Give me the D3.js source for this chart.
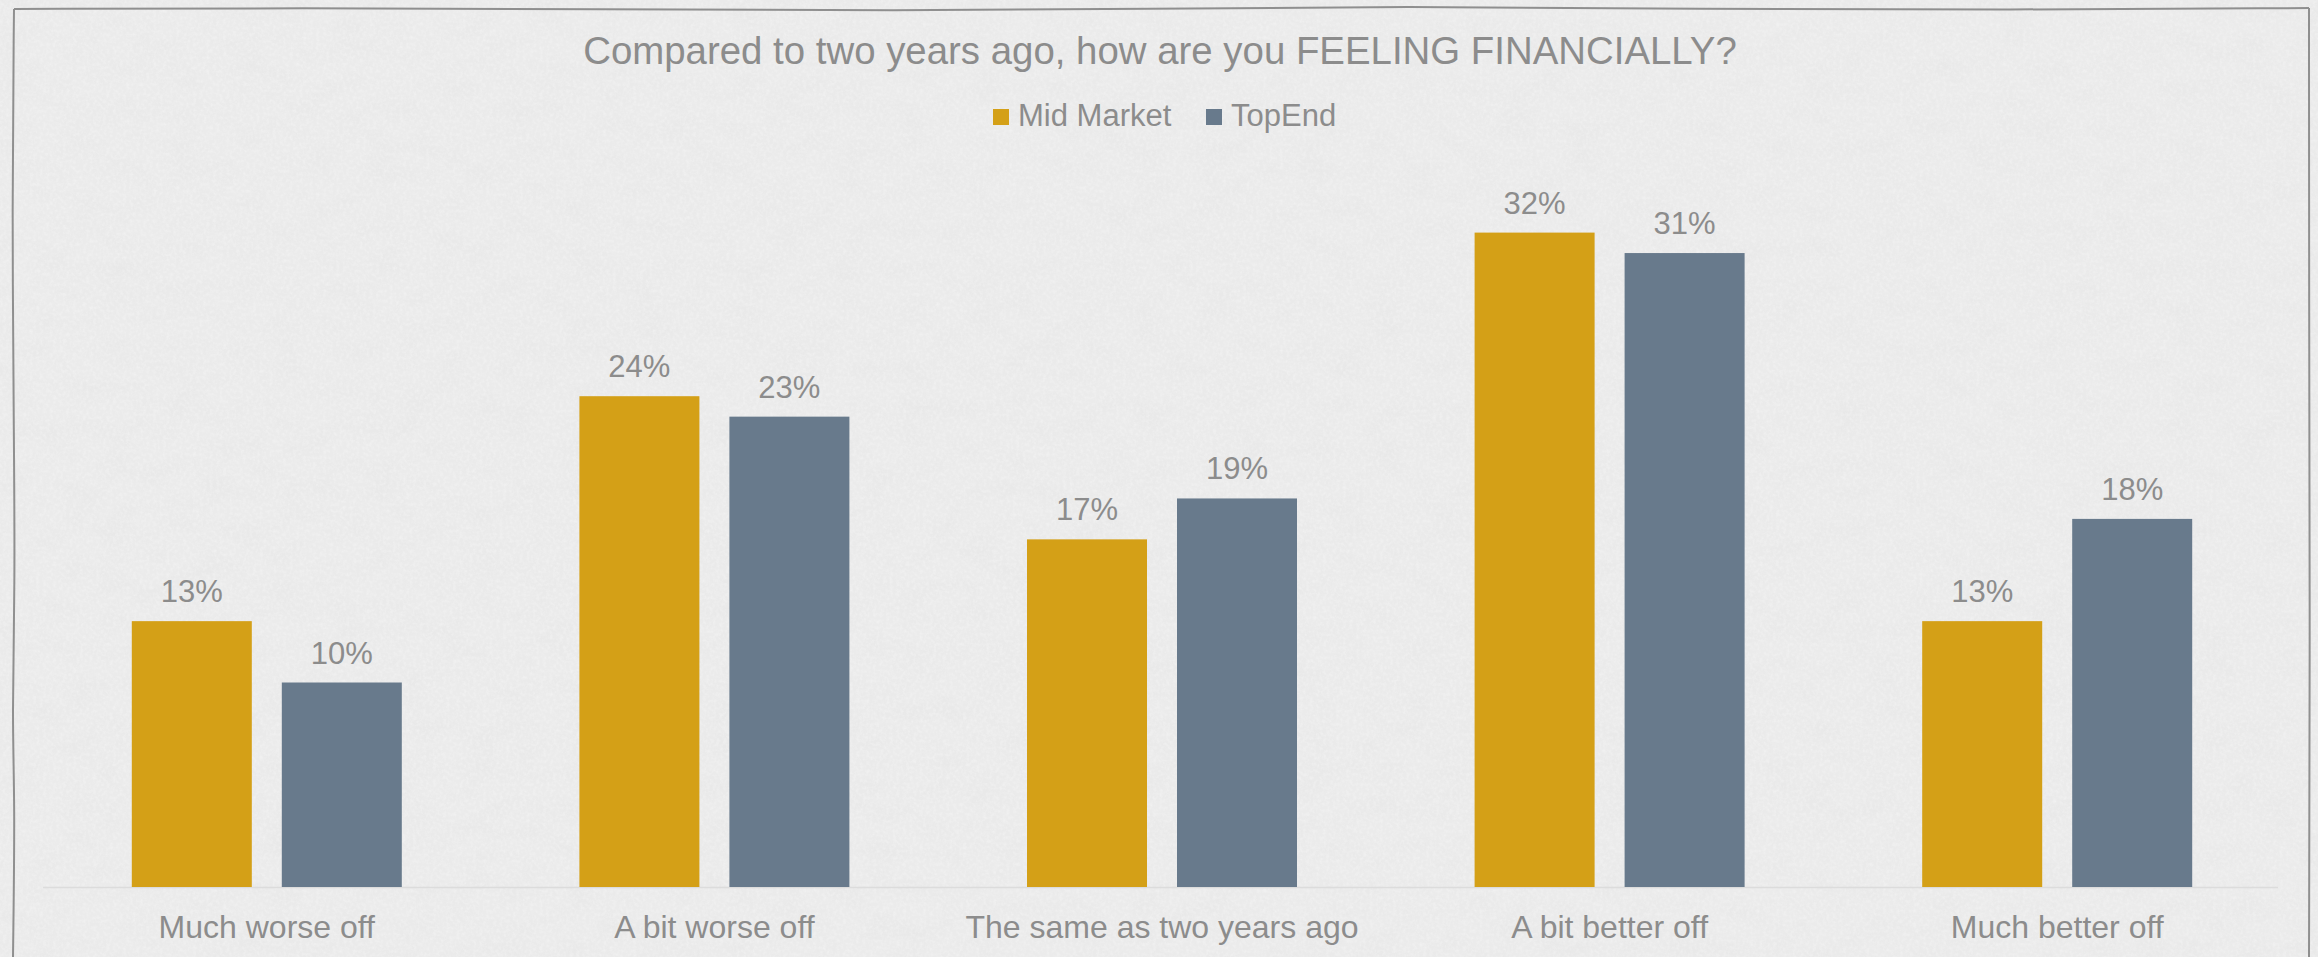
<!DOCTYPE html>
<html>
<head>
<meta charset="utf-8">
<script src="https://cdn.jsdelivr.net/npm/d3@7"></script>
<style>
  html, body { margin: 0; padding: 0; background: #ececec; }
  svg { display: block; }
  text { font-family: "Liberation Sans", Arial, sans-serif; fill: #8c8c8c; }
</style>
</head>
<body>
<script>
// Survey answers: "Compared to two years ago, how are you FEELING FINANCIALLY?"
const categories = ["Much worse off", "A bit worse off", "The same as two years ago", "A bit better off", "Much better off"];
const seriesNames = ["Mid Market", "TopEnd"];
const midMarket = [13, 24, 17, 32, 13];
const topEnd = [10, 23, 19, 31, 18];
const seriesColors = ["#d4a017", "#687a8c"];
const titleText = "Compared to two years ago, how are you FEELING FINANCIALLY?";

const W = 2318, H = 957;
const seriesValues = [midMarket, topEnd];

const svg = d3.select("body").append("svg")
  .attr("width", W).attr("height", H);

// Paper background with a soft grain
const defs = svg.append("defs");
const grain = defs.append("filter").attr("id", "paper")
  .attr("x", 0).attr("y", 0).attr("width", "100%").attr("height", "100%");
grain.append("feTurbulence").attr("type", "fractalNoise")
  .attr("baseFrequency", "0.03 0.05").attr("numOctaves", 4).attr("seed", 7).attr("result", "n");
grain.append("feColorMatrix").attr("in", "n").attr("type", "matrix")
  .attr("values", "0 0 0 0 0.6  0 0 0 0 0.6  0 0 0 0 0.6  1.2 0 0 0 -0.5");
const grain2 = defs.append("filter").attr("id", "speck")
  .attr("x", 0).attr("y", 0).attr("width", "100%").attr("height", "100%");
grain2.append("feTurbulence").attr("type", "fractalNoise")
  .attr("baseFrequency", "0.3").attr("numOctaves", 2).attr("seed", 3).attr("result", "n");
grain2.append("feColorMatrix").attr("in", "n").attr("type", "matrix")
  .attr("values", "0 0 0 0 1  0 0 0 0 1  0 0 0 0 1  1.4 0 0 0 -0.55");

svg.append("rect").attr("width", W).attr("height", H).attr("fill", "#ebebeb");
svg.append("rect").attr("width", W).attr("height", H).attr("filter", "url(#paper)").attr("opacity", 0.14);
svg.append("rect").attr("width", W).attr("height", H).attr("filter", "url(#speck)").attr("opacity", 0.4);

// Hand-drawn frame: top, right and left edges drawn as separate strokes
const line = d3.line().curve(d3.curveBasis);
const frameEdges = [
  [[14, 9], [14, 9], [300, 8], [600, 9], [900, 11], [1150, 9], [1400, 6], [1700, 9], [2000, 10], [2309, 8], [2309, 8]],
  [[2309, 8], [2309, 8], [2309, 300], [2310, 600], [2309, 957], [2309, 957]],
  [[14, 9], [14, 9], [12, 200], [14, 450], [15, 580], [12, 720], [15, 800], [13, 957], [13, 957]],
];
frameEdges.forEach(pts => {
  svg.append("path").attr("d", line(pts)).attr("fill", "none")
    .attr("stroke", "#8f8f8f").attr("stroke-width", 2);
});

// Scales
const baseY = 887;
const x0 = d3.scaleBand().domain(categories).range([43, 2281]).padding(0);
const x1 = d3.scaleBand().domain(seriesNames).range([0, x0.bandwidth()])
  .paddingInner(0.2).paddingOuter(0.592);
const y = d3.scaleLinear().domain([0, 35]).range([baseY, baseY - 35 * 20.45]);

// Category axis (line only, labels below)
const xAxis = d3.axisBottom(x0).tickSize(0).tickPadding(0);
const axisG = svg.append("g").attr("transform", `translate(0,${baseY})`).call(xAxis);
axisG.select(".domain").attr("stroke", "#dcdcdc").attr("stroke-width", 1.5)
  .attr("d", `M${43},0.5H${2278}`);
axisG.selectAll(".tick text")
  .attr("y", 51).attr("dy", 0)
  .style("font-size", "32px")
  .style("font-family", "'Liberation Sans', Arial, sans-serif")
  .attr("fill", "#8c8c8c");

// Bars
const groups = svg.append("g").selectAll("g")
  .data(categories).join("g")
  .attr("transform", d => `translate(${x0(d)},0)`);

groups.selectAll("rect")
  .data((c, i) => seriesNames.map((s, k) => ({ s, v: seriesValues[k][i], k })))
  .join("rect")
  .attr("x", d => x1(d.s))
  .attr("width", x1.bandwidth())
  .attr("y", d => y(d.v))
  .attr("height", d => y(0) - y(d.v))
  .attr("fill", d => seriesColors[d.k]);

// Value labels
groups.selectAll("text.val")
  .data((c, i) => seriesNames.map((s, k) => ({ s, v: seriesValues[k][i], k })))
  .join("text")
  .attr("class", "val")
  .attr("x", d => x1(d.s) + x1.bandwidth() / 2)
  .attr("y", d => y(d.v) - 19)
  .attr("text-anchor", "middle")
  .style("font-size", "31px")
  .text(d => d.v + "%");

// Title
svg.append("text")
  .attr("x", 1160).attr("y", 64)
  .attr("text-anchor", "middle")
  .style("font-size", "38.4px")
  .text(titleText);

// Legend
const legend = svg.append("g").attr("transform", "translate(993,0)");
const legendOffsets = [0, 213];
seriesNames.forEach((s, k) => {
  const g = legend.append("g").attr("transform", `translate(${legendOffsets[k]},0)`);
  g.append("rect").attr("x", 0).attr("y", 109).attr("width", 16).attr("height", 16)
    .attr("fill", seriesColors[k]);
  g.append("text").attr("x", 25).attr("y", 126).style("font-size", "31px").text(s);
});
</script>
</body>
</html>
